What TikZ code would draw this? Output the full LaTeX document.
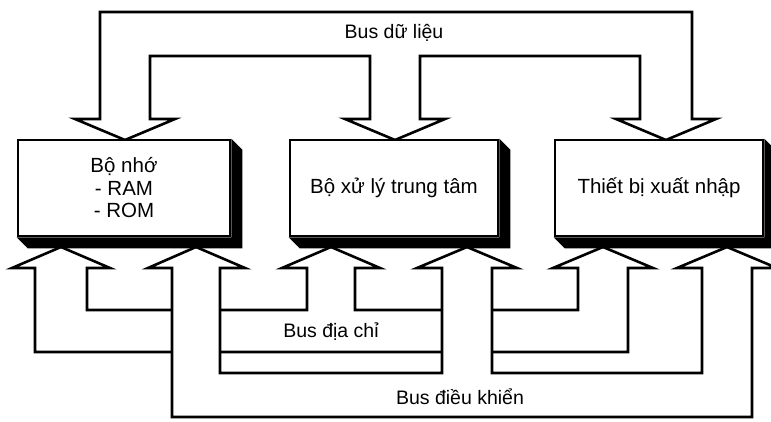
\documentclass[tikz,border=0pt]{standalone}
\usepackage{fontspec}
\setmainfont{Liberation Sans}
\usetikzlibrary{calc}

\tikzset{
  unit/.style={draw=black, fill=white, minimum height=96pt, inner sep=0pt},
  buslabel/.style={font=\fontsize{19.5}{23}\selectfont, inner sep=1pt}
}

\begin{document}
\begin{tikzpicture}[x=1pt,y=-1pt,line width=2.6pt,line join=miter,font=\fontsize{20.5}{22.5}\selectfont]
  \useasboundingbox (0,0) rectangle (771,421);
  \clip (0,0) rectangle (771,421);
  \def\hb{268}
  \def\tp{247}
  \def\at{310}
  \def\ab{352}
  \def\ct{373}
  \def\cb{417}

  %Data bus (top)
  \draw[fill=white] (150,119) -- (150,56) -- (370,56) -- (370,119) -- (345,119) -- (395,140)
    -- (445,119) -- (420,119) -- (420,56) -- (640,56) -- (640,119) -- (616,119) -- (666,140)
    -- (716,119) -- (692,119) -- (692,12) -- (100,12) -- (100,119) -- (75,119) -- (125,140)
    -- (175,119) -- cycle;

  %Address bus (drawn first, it passes behind)
  \draw[fill=white] (61,\tp) -- (110,\hb) -- (87,\hb) -- (87,\at) -- (307,\at) -- (307,\hb)
    -- (282,\hb) -- (331,\tp) -- (380,\hb) -- (355,\hb) -- (355,\at) -- (578,\at) -- (578,\hb)
    -- (553,\hb) -- (603,\tp) -- (653,\hb) -- (628,\hb) -- (628,\ab) -- (35,\ab) -- (35,\hb)
    -- (12,\hb) -- cycle;

  %Control bus
  \draw[fill=white] (196,\tp) -- (245,\hb) -- (220,\hb) -- (220,\ct) -- (442,\ct) -- (442,\hb)
    -- (417,\hb) -- (467,\tp) -- (517,\hb) -- (492,\hb) -- (492,\ct) -- (702,\ct) -- (702,\hb)
    -- (677,\hb) -- (727,\tp) -- (777,\hb) -- (752,\hb) -- (752,\cb) -- (172,\cb) -- (172,\hb)
    -- (148,\hb) -- cycle;

  %Boxes
  \node[unit, minimum width=212pt, align=center] (mem) at (124,188) {Bộ nhớ\\- RAM\\- ROM};
  \node[unit, minimum width=208pt] (cpu) at (394,188) {\raisebox{3pt}{Bộ xử lý trung tâm}};
  \node[unit, minimum width=208pt] (io) at (659,188) {Thiết bị xuất nhập};
  %shadows
  \foreach \b in {mem,cpu,io}
    \fill[black] (\b.north east) -- ++(11,11) -- ($(\b.south east)+(11,11)$)
      -- ($(\b.south west)+(11,11)$) -- (\b.south west) -- (\b.south east) -- cycle;

  %Some labels
  \node[buslabel] (data) at (394,33) {Bus dữ liệu};
  \node[buslabel] (addr) at (331,332) {Bus địa chỉ};
  \node[buslabel] (ctrl) at (460,397) {Bus điều khiển};
\end{tikzpicture}
\end{document}
